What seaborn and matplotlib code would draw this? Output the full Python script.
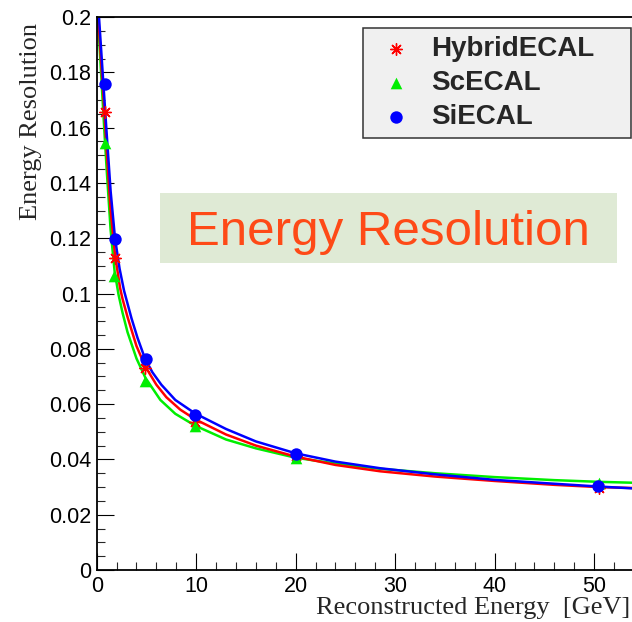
import numpy as np
import pandas as pd
import matplotlib
matplotlib.use("Agg")
import matplotlib.pyplot as plt
import seaborn as sns
from matplotlib.ticker import MultipleLocator, FuncFormatter
from matplotlib.patches import Rectangle

# measured points (reconstructed energy, resolution)
hybrid_x = [0.83, 1.84, 4.90, 9.90, 20.0, 50.5]
hybrid_y = [0.1655, 0.1127, 0.0730, 0.0535, 0.0411, 0.0297]
sc_x = [0.80, 1.75, 4.88, 9.90, 20.0, 50.5]
sc_y = [0.1545, 0.1063, 0.0685, 0.0520, 0.0405, 0.0316]
si_x = [0.83, 1.84, 4.92, 9.93, 20.0, 50.35]
si_y = [0.1759, 0.1196, 0.0763, 0.0562, 0.0419, 0.0304]

# fitted curves
hybrid_fit_x = [0.16, 0.5, 0.77, 1.0, 1.4, 1.84, 2.35, 2.6, 3.1, 4.0, 4.9, 6.0, 7.0, 8.4, 9.9,
                13, 16, 20, 24, 28.5, 34, 40, 46, 50.4, 54.5]
hybrid_fit_y = [0.200, 0.181, 0.166, 0.152, 0.130, 0.114, 0.102, 0.098, 0.0915, 0.081, 0.0735,
                0.0670, 0.0625, 0.0580, 0.0545, 0.049, 0.045, 0.041, 0.038, 0.0357, 0.0338,
                0.0322, 0.0308, 0.0300, 0.0296]
sc_fit_x = [0.12, 0.5, 0.8, 1.0, 1.4, 1.8, 2.2, 2.6, 3.1, 4.0, 4.9, 6.4, 7.9, 9.9,
            13, 16, 20, 24, 28.5, 34, 40, 46, 50.4, 54.5]
sc_fit_y = [0.200, 0.176, 0.157, 0.145, 0.123, 0.108, 0.0995, 0.093, 0.086, 0.0765, 0.0695,
            0.0615, 0.0565, 0.0522, 0.0472, 0.044, 0.0406, 0.0385, 0.0366, 0.0350,
            0.0336, 0.0325, 0.0319, 0.0315]
si_fit_x = [0.23, 0.67, 1.0, 1.4, 1.84, 2.3, 2.75, 3.5, 4.1, 4.85, 5.6, 6.5, 7.9, 9.9,
            13, 16, 20, 24, 28.5, 34, 40, 46, 50.4, 54.5]
si_fit_y = [0.200, 0.176, 0.158, 0.137, 0.120, 0.109, 0.101, 0.091, 0.0840, 0.0765, 0.0715,
            0.067, 0.0615, 0.0566, 0.051, 0.0465, 0.0422, 0.0392, 0.0368, 0.0346, 0.0326,
            0.0312, 0.0302, 0.0294]

series = [
    ("HybridECAL", hybrid_x, hybrid_y, hybrid_fit_x, hybrid_fit_y, "#ff0000", (8, 2, 0), 70),
    ("ScECAL", sc_x, sc_y, sc_fit_x, sc_fit_y, "#00ee00", "^", 70),
    ("SiECAL", si_x, si_y, si_fit_x, si_fit_y, "#0000ff", "o", 80),
]

sns.set_style("ticks")
plt.rcParams["font.family"] = ["Liberation Sans", "DejaVu Sans"]

fig = plt.figure(figsize=(6.32, 6.22), dpi=100)
ax = fig.add_axes([0.153, 0.0836, 0.847, 0.889])

# curves: green under red under blue
for name, px, py, fx, fy, col, mk, ms in [series[1], series[0], series[2]]:
    fit = pd.DataFrame({"E": fx, "res": fy})
    sns.lineplot(data=fit, x="E", y="res", color=col, lw=1.8, sort=False,
                 estimator=None, ax=ax, zorder=2)

for name, px, py, fx, fy, col, mk, ms in series:
    pts = pd.DataFrame({"E": px, "res": py})
    if mk == (8, 2, 0):
        sns.scatterplot(data=pts, x="E", y="res", marker=mk, s=ms, color=col,
                        linewidth=1.0, ax=ax, label=name, zorder=3)
    else:
        sns.scatterplot(data=pts, x="E", y="res", marker=mk, s=ms, color=col,
                        edgecolor=col, linewidth=0, ax=ax, label=name, zorder=3)

ax.set_xlim(0, 53.8)
ax.set_ylim(0, 0.2)
ax.spines["right"].set_visible(False)
for sp in ["left", "bottom", "top"]:
    ax.spines[sp].set_linewidth(1.3)
    ax.spines[sp].set_color("black")

ax.xaxis.set_major_locator(MultipleLocator(10))
ax.xaxis.set_minor_locator(MultipleLocator(2))
ax.yaxis.set_major_locator(MultipleLocator(0.02))
ax.yaxis.set_minor_locator(MultipleLocator(0.005))
ax.yaxis.set_major_formatter(FuncFormatter(lambda v, _: f"{v:g}"))
ax.tick_params(which="major", direction="in", length=12, width=0.8,
               labelsize=15.5, pad=4, colors="black")
ax.tick_params(which="minor", direction="in", length=6, width=0.8)
ax.tick_params(top=False, right=False, which="both")

ax.set_xlabel("Reconstructed Energy  [GeV]", family="Liberation Serif",
              fontsize=19, loc="right")
ax.set_ylabel("Energy Resolution", family="Liberation Serif", fontsize=19, loc="top")
ax.xaxis.set_label_coords(0.996, -0.049)
ax.yaxis.set_label_coords(-0.103, 0.99)

leg = ax.legend(loc="upper left", bbox_to_anchor=(0.4975, 0.83, 0.5007, 0.15),
                mode="expand", prop={"weight": "bold", "size": 20},
                frameon=True, fancybox=False, framealpha=1,
                facecolor="#f0f0f0", edgecolor="#333333", borderpad=0.28,
                handlelength=1.84, handletextpad=0.33, labelspacing=0.29,
                scatterpoints=1, borderaxespad=0)
leg.get_frame().set_linewidth(1.1)

fig.add_artist(Rectangle((0.2532, 0.5777), 0.7231, 0.1116,
                         transform=fig.transFigure, facecolor="#dfead5",
                         edgecolor="none"))
fig.text(0.6139, 0.6061, "Energy Resolution", ha="center", va="baseline",
         fontsize=35.5, color="#fe4a17", family="Liberation Sans")

fig.savefig("out.png", dpi=100)
